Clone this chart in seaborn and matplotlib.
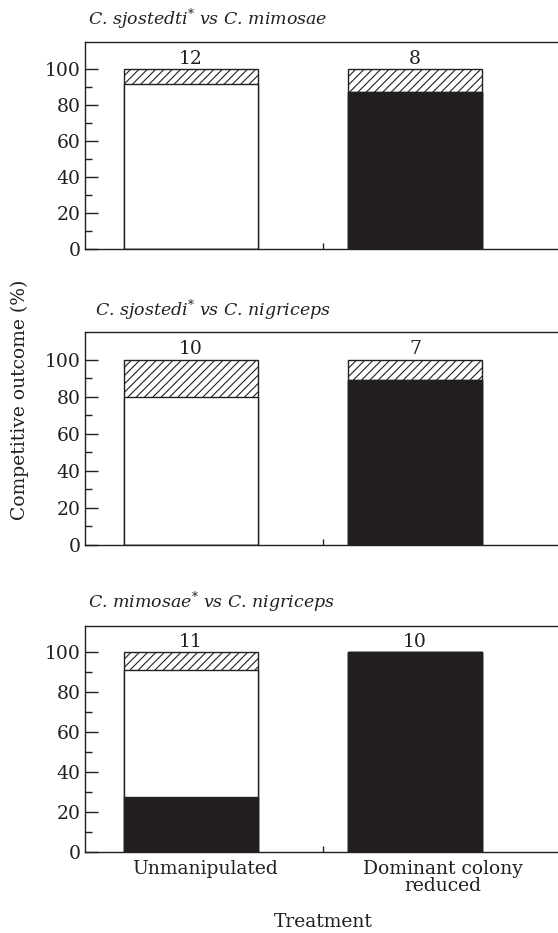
import matplotlib
matplotlib.use("Agg")
import pandas as pd
import seaborn as sns
import matplotlib.pyplot as plt

# Values (percent of trials)
treatments = ["Unmanipulated", "Dominant colony\nreduced"]
titles = ["C. sjostedti$^{*}$ vs C. mimosae",
          "C. sjostedi$^{*}$ vs C. nigriceps",
          "C. mimosae$^{*}$ vs C. nigriceps"]
black_pct = [[0, 87.5], [0, 89], [27.3, 100]]
white_pct = [[91.7, 0], [80, 0], [63.6, 0]]
hatch_pct = [[8.3, 12.5], [20, 11], [9.1, 0]]
n_trials = [[12, 8], [10, 7], [11, 10]]

INK = "#231f20"
FS = 13.5
sns.set_style("ticks")
plt.rcParams["font.family"] = ["DejaVu Serif"]
plt.rcParams["mathtext.fontset"] = "dejavuserif"
plt.rcParams["hatch.linewidth"] = 0.8
plt.rcParams["hatch.color"] = INK
plt.rcParams["text.color"] = INK

W, H = 558, 933
fig = plt.figure(figsize=(W / 100, H / 100), dpi=100)

# panel layout in pixels: top, bottom, y max
panels = [(42, 249, 115), (332, 545, 115), (626, 852, 113)]
title_pos = [(88, 25), (95, 316), (88, 608)]

for k, (top, bot, ymax) in enumerate(panels):
    ax = fig.add_axes([85 / W, 1 - bot / H, (561 - 85) / W, (bot - top) / H])
    df = pd.DataFrame({
        "treatment": treatments,
        "black": black_pct[k],
        "white": white_pct[k],
        "hatch": hatch_pct[k],
    })
    df["total"] = df["black"] + df["white"] + df["hatch"]
    df["lower"] = df["black"] + df["white"]

    common = dict(x="treatment", ax=ax, width=0.6, saturation=1,
                  edgecolor=INK, linewidth=1, errorbar=None)
    sns.barplot(data=df, y="total", color="white", hatch="////", **common)
    sns.barplot(data=df, y="lower", color="white", **common)
    sns.barplot(data=df, y="black", color=INK, **common)

    for i, n in enumerate(n_trials[k]):
        ax.annotate(str(n), (i, 100), xytext=(0, 1), textcoords="offset points",
                    ha="center", va="bottom", fontsize=FS)

    ax.set_xlim(-0.473, 1.652)
    ax.set_ylim(0, ymax)
    ax.set_yticks(range(0, 101, 20))
    ax.set_yticks(range(10, 100, 20), minor=True)
    ax.set_xticks([0.589], [""])
    ax.tick_params(axis="y", which="major", direction="in", length=9.5, width=1,
                   labelsize=FS, pad=3, color=INK, labelcolor=INK)
    ax.tick_params(axis="y", which="minor", direction="in", length=5, width=1, color=INK)
    ax.tick_params(axis="x", direction="in", length=4.5, width=1, color=INK)
    ax.set_xlabel("")
    ax.set_ylabel("")
    for s in ["left", "top", "bottom"]:
        ax.spines[s].set_color(INK)
        ax.spines[s].set_linewidth(1)
    ax.spines["right"].set_visible(False)

    tx, ty = title_pos[k]
    fig.text(tx / W, 1 - ty / H, titles[k], fontsize=12.5, style="italic",
             ha="left", va="baseline")

# x category labels under the bottom panel
fig.text(205 / W, 1 - 860 / H, treatments[0], ha="center", va="top", fontsize=FS)
fig.text(443 / W, 1 - 860 / H, treatments[1], ha="center", va="top", fontsize=FS,
         linespacing=0.9, multialignment="center")
fig.text(323 / W, 1 - 927 / H, "Treatment", ha="center", va="baseline", fontsize=FS)
fig.text(20 / W, 1 - 400 / H, "Competitive outcome (%)", rotation=90,
         ha="center", va="center", fontsize=FS)

plt.savefig("out.png", dpi=100)
